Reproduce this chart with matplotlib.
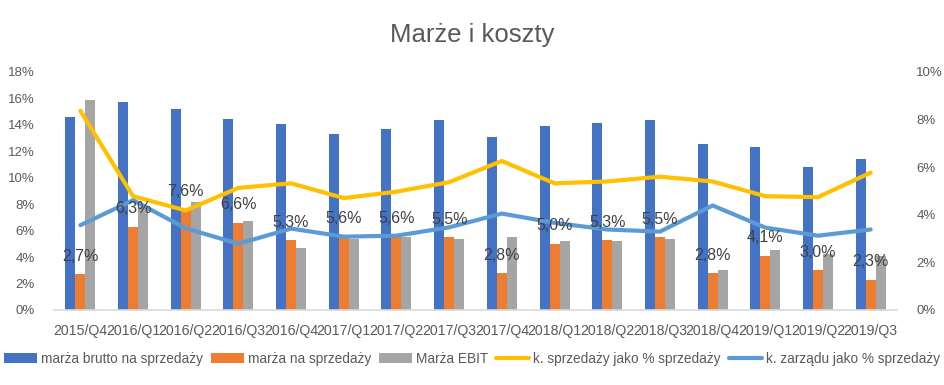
import matplotlib
matplotlib.use("Agg")
import matplotlib.pyplot as plt
import numpy as np

plt.rcParams['font.family'] = ['Liberation Sans', 'DejaVu Sans']

# data
quarters = ['2015/Q4', '2016/Q1', '2016/Q2', '2016/Q3', '2016/Q4', '2017/Q1', '2017/Q2', '2017/Q3',
            '2017/Q4', '2018/Q1', '2018/Q2', '2018/Q3', '2018/Q4', '2019/Q1', '2019/Q2', '2019/Q3']
brutto = [14.6, 15.7, 15.2, 14.45, 14.1, 13.3, 13.7, 14.4, 13.1, 13.9, 14.15, 14.4, 12.55, 12.3, 10.8, 11.4]
sprzedaz = [2.7, 6.3, 7.6, 6.6, 5.3, 5.6, 5.6, 5.5, 2.8, 5.0, 5.3, 5.5, 2.8, 4.1, 3.0, 2.3]
ebit = [15.9, 7.8, 8.2, 6.7, 4.7, 5.4, 5.5, 5.4, 5.55, 5.25, 5.2, 5.4, 3.0, 4.5, 4.2, 4.1]
k_sprzedazy = [8.37, 4.78, 4.18, 5.13, 5.32, 4.7, 4.97, 5.37, 6.26, 5.32, 5.4, 5.6, 5.4, 4.78, 4.74, 5.77]
k_zarzadu = [3.56, 4.61, 3.43, 2.78, 3.42, 3.08, 3.12, 3.47, 4.05, 3.66, 3.38, 3.29, 4.39, 3.46, 3.12, 3.38]

txt = '#595959'
fig = plt.figure(figsize=(9.44, 3.85), dpi=100)
ax = fig.add_axes([0.0572, 0.195, 0.893, 0.618])
ax2 = ax.twinx()

x = np.arange(len(quarters))
w = 0.19
b1 = ax.bar(x - w, brutto, w, color='#4472C4', label='marża brutto na sprzedaży')
b2 = ax.bar(x, sprzedaz, w, color='#ED7D31', label='marża na sprzedaży')
b3 = ax.bar(x + w, ebit, w, color='#A5A5A5', label='Marża EBIT')

l1, = ax2.plot(x, k_sprzedazy, color='#FFC000', lw=3, solid_capstyle='round', label='k. sprzedaży jako % sprzedaży')
l2, = ax2.plot(x, k_zarzadu, color='#5B9BD5', lw=3, solid_capstyle='round', label='k. zarządu jako % sprzedaży')

# data labels above orange bars (drawn on top axis so they sit over lines)
for xi, v in zip(x, sprzedaz):
    ax2.text(xi, v * 10 / 18 + 0.75, ('%.1f%%' % v).replace('.', ','), ha='center', va='center',
             fontsize=11.5, color='#404040', zorder=10)

ax.set_xlim(-0.5, len(quarters) - 0.5)
ax.set_ylim(0, 18)
ax2.set_ylim(0, 10)
ax.set_yticks(np.arange(0, 19, 2))
ax.set_yticklabels(['%d%%' % t for t in range(0, 19, 2)])
ax2.set_yticks(np.arange(0, 11, 2))
ax2.set_yticklabels(['%d%%' % t for t in range(0, 11, 2)])
ax.set_xticks(x)
ax.set_xticklabels(quarters)

for a in (ax, ax2):
    for s in a.spines.values():
        s.set_visible(False)
    a.tick_params(length=0, colors=txt, labelsize=9.5)
ax.spines['bottom'].set_visible(True)
ax.spines['bottom'].set_color('#D9D9D9')
ax.spines['bottom'].set_linewidth(1.2)
ax.tick_params(axis='x', pad=10, labelsize=10.2)
ax.tick_params(axis='y', pad=14)
ax2.tick_params(axis='y', pad=14)

fig.suptitle('Marże i koszty', x=0.5, y=0.94, fontsize=18.5, color=txt)

fig.legend([b1, b2, b3, l1, l2], [h.get_label() for h in (b1, b2, b3, l1, l2)],
           loc='center', bbox_to_anchor=(0.5, 0.068), ncol=5, frameon=False,
           fontsize=9.8, labelcolor=txt, handlelength=2.4, handleheight=0.7,
           columnspacing=0.6, handletextpad=0.3)

fig.savefig('out.png', dpi=100)
